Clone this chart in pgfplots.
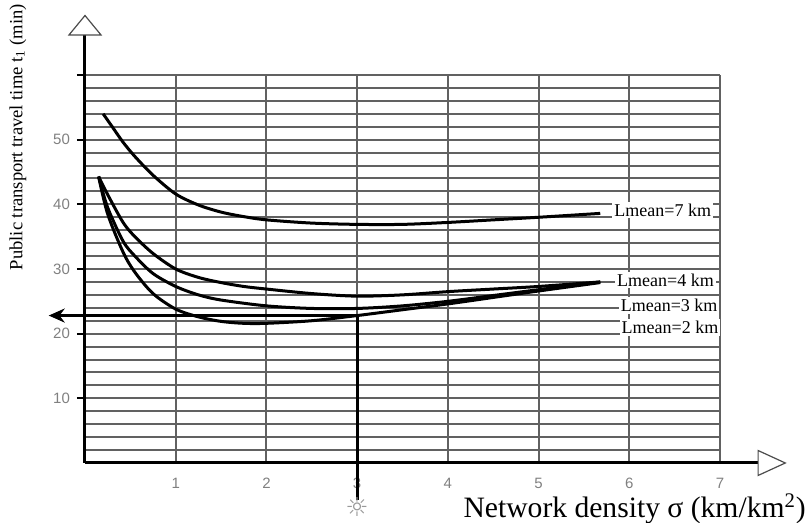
\documentclass[border=0pt]{standalone}
\usepackage{fontspec}
\setmainfont{Liberation Serif}
\setsansfont{Liberation Sans}
\newfontfamily\symfont{DejaVu Sans}
\usepackage{pgfplots}
\pgfplotsset{compat=1.18}
\usetikzlibrary{arrows.meta}

\begin{document}
\begin{tikzpicture}
\useasboundingbox (-42.5pt,-30pt) rectangle (362pt,231.5pt);
\begin{axis}[
  at={(0,0)}, anchor=south west,
  scale only axis, width=317.5pt, height=194pt,
  xmin=0, xmax=7, ymin=0, ymax=60,
  clip=false,
  axis x line=bottom, axis y line=left,
  axis line style={draw=none},
  xtick={1,...,6}, extra x ticks={7},
  extra x tick style={grid style={black!25, line width=1pt}},
  ytick={10,20,...,60}, yticklabels={10,20,30,40,50,{}},
  minor ytick={2,4,...,58},
  grid=both,
  major grid style={black!62, line width=1pt},
  minor grid style={black!62, line width=1pt},
  tick align=outside,
  xtick style={draw=none},
  ytick style={black, line width=0.9pt},
  major tick length=4pt, minor tick length=0pt,
  /pgf/number format/assume math mode=true,
  tick label style={font=\sffamily\fontsize{7.5}{8}\selectfont, text=black!50},
]
% curves
\addplot[black, line width=1.5pt, smooth] coordinates {
  (0.2,54.0) (0.3,52.0) (0.42,49.6) (0.55,47.4) (0.75,44.5) (1.0,41.6)
  (1.25,39.9) (1.5,38.8) (1.75,38.1) (2.0,37.6) (2.5,37.1) (3.0,36.9)
  (3.5,36.9) (4.0,37.2) (4.5,37.6) (5.0,38.0) (5.68,38.6)
};
\addplot[black, line width=1.5pt, smooth] coordinates {
  (0.15,44.3) (0.25,41.5) (0.42,37.2) (0.55,35.0) (0.75,32.4) (1.0,30.0)
  (1.25,28.7) (1.5,27.9) (1.75,27.3) (2.0,26.9) (2.5,26.2) (3.0,25.8)
  (3.5,26.0) (4.0,26.5) (4.5,26.9) (5.0,27.3) (5.68,28.0)
};
\addplot[black, line width=1.5pt, smooth] coordinates {
  (0.15,44.3) (0.25,39.5) (0.42,34.3) (0.55,32.0) (0.75,29.3) (1.0,27.3)
  (1.25,26.0) (1.5,25.2) (2.0,24.3) (2.5,23.9) (3.0,23.9) (3.5,24.3)
  (4.0,25.0) (4.5,25.9) (5.0,26.8) (5.68,28.0)
};
\addplot[black, line width=1.5pt, smooth] coordinates {
  (0.15,44.3) (0.25,38.5) (0.42,32.6) (0.55,29.5) (0.75,26.2) (1.0,23.8)
  (1.25,22.6) (1.5,21.9) (1.75,21.6) (2.0,21.6) (2.5,22.0) (3.0,22.8)
  (3.5,23.7) (4.0,24.6) (4.5,25.6) (5.0,26.6) (5.68,27.9)
};
% axes with hollow arrowheads
\draw[black, line width=1.5pt] (axis cs:0,0) -- (axis cs:7.42,0);
\draw[black!70, line width=0.6pt, fill=white] (axis cs:7.42,1.93) -- (axis cs:7.42,-1.93) -- (axis cs:7.72,0) -- cycle;
\draw[black, line width=1.5pt] (axis cs:0,0) -- (axis cs:0,66.2);
\draw[black!70, line width=0.6pt, fill=white] (axis cs:-0.176,66.2) -- (axis cs:0.176,66.2) -- (axis cs:0,69.2) -- cycle;
% reading lines
\draw[black, line width=1.4pt, -{Stealth[length=8pt,width=7pt]}] (axis cs:3,22.8) -- (axis cs:-0.4,22.8);
\draw[black, line width=1.4pt] (axis cs:3,22.8) -- (axis cs:3,-5.7);
\node[text=black!40, inner sep=0pt, font=\symfont\fontsize{13}{13}\selectfont] at (axis cs:3,-6.8) {☼};
% labels
\node[anchor=west, fill=white, inner sep=1pt, font=\fontsize{9}{10}\selectfont] at (axis cs:5.81,39.1) {Lmean=7 km};
\node[anchor=west, fill=white, inner sep=1pt, font=\fontsize{9}{10}\selectfont] at (axis cs:5.84,28.3) {Lmean=4 km};
\node[anchor=west, fill=white, inner sep=1pt, font=\fontsize{9}{10}\selectfont] at (axis cs:5.88,24.4) {Lmean=3 km};
\node[anchor=west, fill=white, inner sep=1pt, font=\fontsize{9}{10}\selectfont] at (axis cs:5.89,21.0) {Lmean=2 km};
\node[rotate=90, font=\fontsize{9.3}{10}\selectfont] at (axis cs:-0.74,50.4) {Public transport travel time t\textsubscript{1} (min)};
\node[anchor=east, inner sep=0pt, font=\fontsize{14.8}{15}\selectfont] at (axis cs:7.95,-7.1) {Network density σ (km/km\textsuperscript{2})};
\end{axis}
\end{tikzpicture}
\end{document}
